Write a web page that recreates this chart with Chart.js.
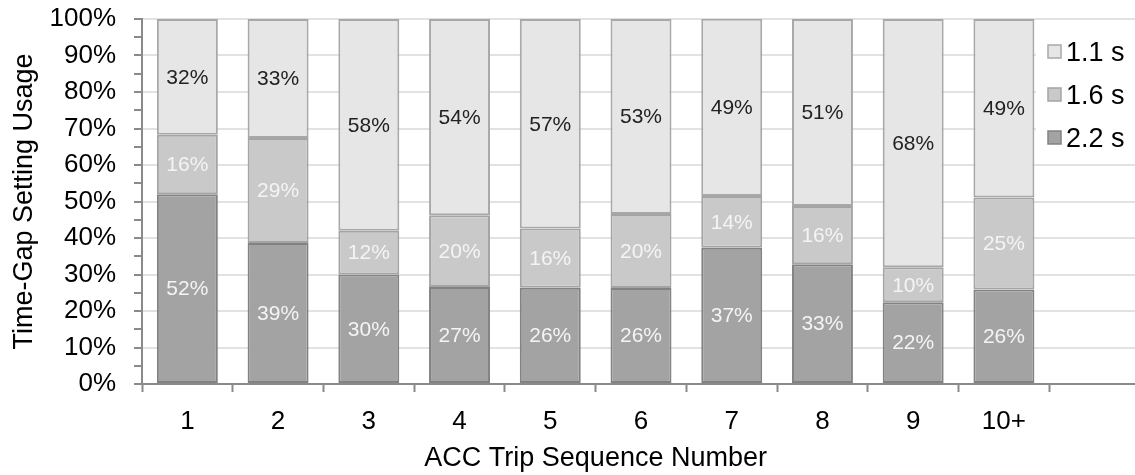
<!DOCTYPE html>
<html>
<head>
<meta charset="utf-8">
<script src="https://cdn.jsdelivr.net/npm/chart.js@4/dist/chart.umd.min.js"></script>
<style>
html,body{margin:0;padding:0;background:#fff;overflow:hidden;width:1135px;height:475px}
#wrap{width:1140px;height:475px;position:relative}
</style>
</head>
<body>
<div id="wrap"><canvas id="c" width="1140" height="475"></canvas></div>
<script>
// ---- data ----
const categories = ['1', '2', '3', '4', '5', '6', '7', '8', '9', '10+', ''];
const gap22 = [52.0, 38.6, 30.0, 26.6, 26.4, 26.3, 37.3, 32.8, 22.4, 25.9];
const gap16 = [16.3, 28.8, 12.0, 19.6, 16.2, 20.3, 14.2, 16.0, 9.6, 25.2];
const gap11 = [31.7, 32.6, 58.0, 53.8, 57.4, 53.4, 48.6, 51.2, 68.0, 48.9];
const seriesNames = ['2.2 s', '1.6 s', '1.1 s'];
const yLabelStep = 10;
const yMinorStep = 5;
const xTitle = 'ACC Trip Sequence Number';
const yTitle = 'Time-Gap Setting Usage';

const FONT = "'Liberation Sans', Arial, sans-serif";
Chart.defaults.font.family = FONT;
Chart.defaults.color = '#000';

const styles = [
  {bg: '#a3a3a3', border: '#828282', label: '#f4f4f4'},
  {bg: '#c9c9c9', border: '#a4a4a4', label: '#f4f4f4'},
  {bg: '#e6e6e6', border: '#a8a8a8', label: '#222222'}
];

const seriesData = [gap22, gap16, gap11];
const datasets = seriesData.map((d, i) => ({
  label: seriesNames[i],
  data: d,
  backgroundColor: styles[i].bg,
  borderColor: styles[i].border,
  borderWidth: 2,
  borderSkipped: false,
  categoryPercentage: 1,
  barPercentage: 0.672,
  labelColor: styles[i].label
}));

const valueLabels = {
  id: 'valueLabels',
  afterDatasetsDraw(chart) {
    const ctx = chart.ctx;
    ctx.save();
    ctx.font = '21px ' + FONT;
    ctx.textAlign = 'center';
    ctx.textBaseline = 'middle';
    chart.data.datasets.forEach((ds, i) => {
      const meta = chart.getDatasetMeta(i);
      meta.data.forEach((bar, j) => {
        const v = ds.data[j];
        if (v == null) return;
        const p = bar.getProps(['x', 'y', 'base'], true);
        ctx.fillStyle = ds.labelColor;
        ctx.fillText(Math.round(v) + '%', p.x, (p.y + p.base) / 2 + 1);
      });
    });
    ctx.restore();
  }
};

const legendAndTitle = {
  id: 'legendAndTitle',
  afterDraw(chart) {
    const ctx = chart.ctx;
    const xs = chart.scales.x;
    ctx.save();
    // x axis title centred under the labelled categories
    const cx = (xs.getPixelForValue(0) + xs.getPixelForValue(9)) / 2;
    ctx.font = '27px ' + FONT;
    ctx.fillStyle = '#000';
    ctx.textAlign = 'center';
    ctx.textBaseline = 'middle';
    ctx.fillText(xTitle, cx, 459);
    // legend
    ctx.fillStyle = '#fff';
    ctx.fillRect(1036, 21, 110, 141);
    ctx.font = '27px ' + FONT;
    ctx.textAlign = 'left';
    const ds = chart.data.datasets;
    const ys = [53, 96, 139];
    for (let k = 0; k < ds.length; k++) {
      const d = ds[ds.length - 1 - k];
      const y = ys[k];
      ctx.fillStyle = d.backgroundColor;
      ctx.fillRect(1048, y - 8, 13, 13);
      ctx.strokeStyle = d.borderColor;
      ctx.lineWidth = 1.5;
      ctx.strokeRect(1048, y - 8, 13, 13);
      ctx.fillStyle = '#000';
      ctx.fillText(d.label, 1066, y + 1);
    }
    ctx.restore();
  }
};

new Chart(document.getElementById('c'), {
  type: 'bar',
  data: {labels: categories, datasets},
  options: {
    responsive: false,
    animation: false,
    devicePixelRatio: 1,
    layout: {padding: {top: 19, left: 0, right: 0, bottom: 0}},
    plugins: {legend: {display: false}, tooltip: {enabled: false}},
    scales: {
      x: {
        stacked: true,
        afterFit(s) { s.height = 91; },
        grid: {
          offset: true,
          drawOnChartArea: false,
          drawTicks: true,
          tickLength: 8,
          tickColor: '#8a8a8a',
          tickWidth: 2
        },
        border: {display: true, color: '#8a8a8a', width: 2},
        ticks: {font: {size: 26}, color: '#000', padding: 14, maxRotation: 0, autoSkip: false}
      },
      y: {
        stacked: true,
        min: 0,
        max: 100,
        afterFit(s) { s.width = 142; s.paddingTop = 0; s.paddingBottom = 0; },
        grid: {
          color: (c) => (c.tick && c.tick.value % yLabelStep === 0) ? '#e2e2e2' : 'rgba(0,0,0,0)',
          lineWidth: 2,
          drawTicks: true,
          tickLength: 8,
          tickColor: '#8a8a8a',
          tickWidth: 2
        },
        border: {display: true, color: '#8a8a8a', width: 2},
        ticks: {
          stepSize: yMinorStep,
          autoSkip: false,
          font: {size: 26},
          color: '#000',
          padding: 18,
          callback: (v) => (v % yLabelStep === 0 ? v + '%' : '')
        },
        title: {display: true, text: yTitle, font: {size: 27}, color: '#000', padding: {top: 8, bottom: 0}}
      }
    }
  },
  plugins: [valueLabels, legendAndTitle]
});
</script>
</body>
</html>
